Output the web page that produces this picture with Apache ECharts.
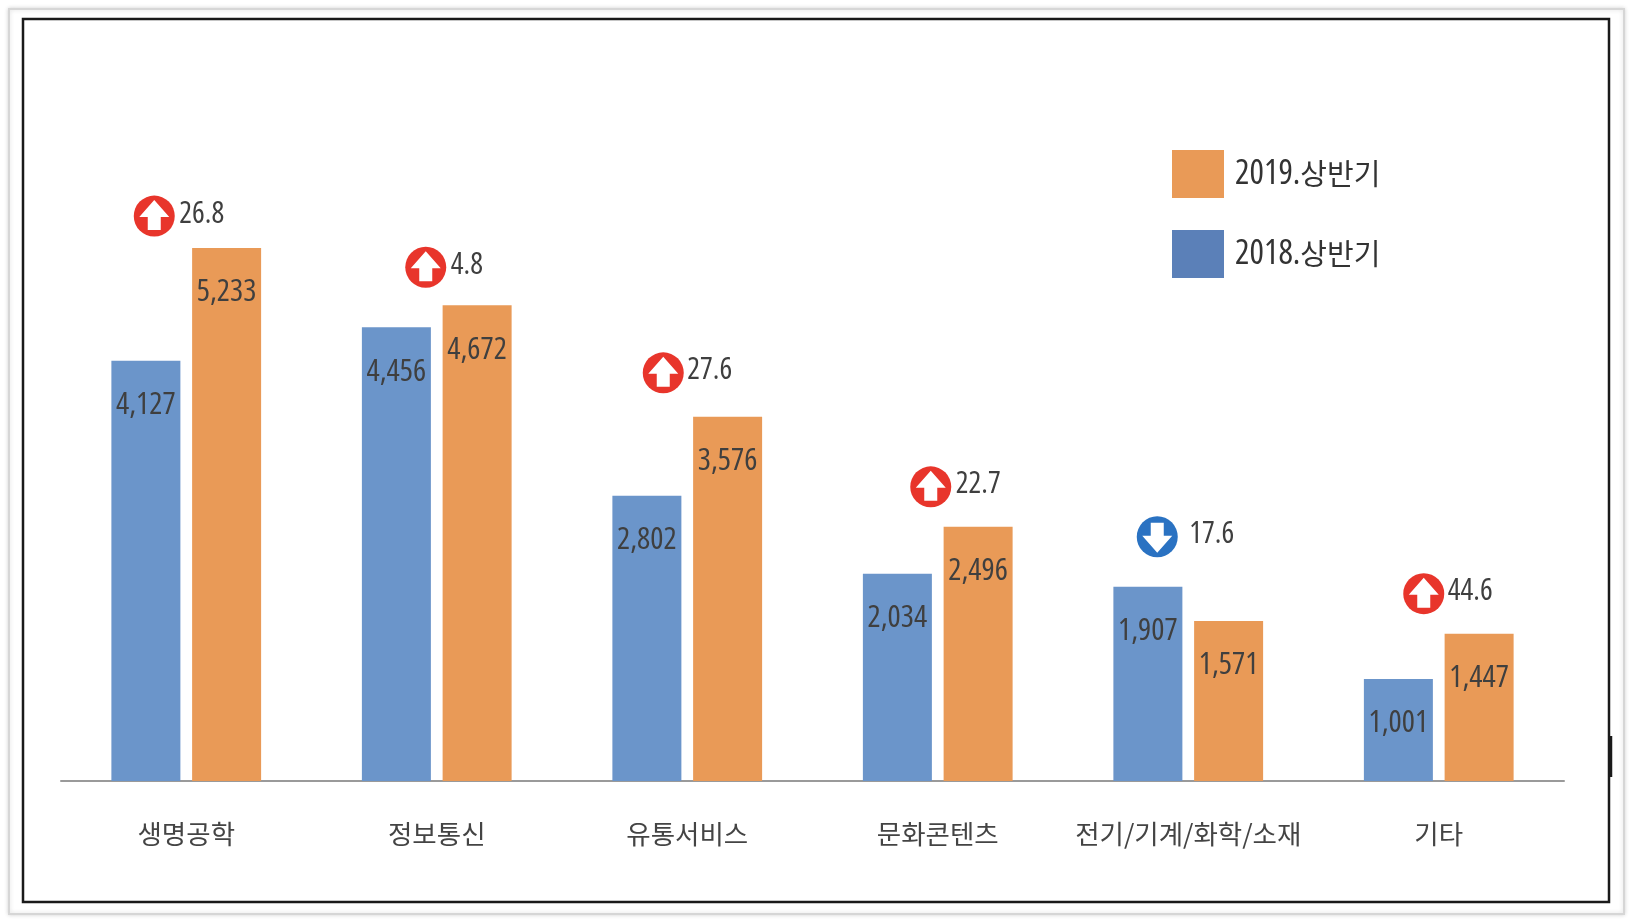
<!DOCTYPE html>
<html>
<head>
<meta charset="utf-8">
<script src="https://cdn.jsdelivr.net/npm/echarts@6/dist/echarts.min.js"></script>
<style>
html,body{margin:0;padding:0;background:#fff;}
#chart{width:1634px;height:924px;}
</style>
</head>
<body>
<div id="chart"></div>
<script>
// ---- data ----
var categories = ['생명공학', '정보통신', '유통서비스', '문화콘텐츠', '전기/기계/화학/소재', '기타'];
var seriesNames = ['2018.상반기', '2019.상반기'];
var values2018 = [4127, 4456, 2802, 2034, 1907, 1001];
var values2019 = [5233, 4672, 3576, 2496, 1571, 1447];
var changePct = [26.8, 4.8, 27.6, 22.7, 17.6, 44.6];
var changeDir = ['up', 'up', 'up', 'up', 'down', 'up'];

// ---- layout nudges for the change badges (pixels, relative to the taller bar top) ----
var badgeNudge = [
  {dx: -32, dy: -32, tx: 25},
  {dx: -11, dy: -38, tx: 25},
  {dx: -24, dy: -44, tx: 24},
  {dx: -7, dy: -40, tx: 25},
  {dx: -31, dy: -50, tx: 32},
  {dx: -15, dy: -40, tx: 24}
];

var numFamily = "'Open Sans', sans-serif";
var krFont = "'Noto Sans CJK KR', sans-serif";

function fmt(v) {
  return String(v).replace(/\B(?=(\d{3})+(?!\d))/g, ',');
}

var badgeData = categories.map(function (c, i) {
  return [i, Math.max(values2018[i], values2019[i]), changePct[i], changeDir[i] === 'up' ? 1 : -1];
});

var chart = echarts.init(document.getElementById('chart'));

var barLabel = {
  show: true,
  position: 'insideTop',
  distance: 29,
  color: '#3f3f3f',
  fontFamily: numFamily,
  fontStyle: 'normal',
  fontWeight: 'condensed',
  fontSize: 31,
  formatter: function (p) { return fmt(p.value); }
};

chart.setOption({
  backgroundColor: '#fff',
  animation: false,
  graphic: [
    {type: 'rect', shape: {x: 9, y: 9, width: 1615, height: 905}, style: {fill: '#fff', stroke: '#d6d6d6', lineWidth: 2, shadowBlur: 4, shadowColor: 'rgba(0,0,0,0.15)'}, z: -10, silent: true},
    {type: 'rect', shape: {x: 23, y: 19, width: 1586, height: 883}, style: {fill: 'none', stroke: '#1a1a1a', lineWidth: 2.5}, z: -9, silent: true},
    {type: 'line', shape: {x1: 1611, y1: 736, x2: 1611, y2: 777}, style: {stroke: '#1a1a1a', lineWidth: 2.5}, z: -9, silent: true}
  ],
  legend: {
    orient: 'vertical',
    left: 1172,
    top: 150,
    padding: 0,
    itemWidth: 52,
    itemHeight: 48,
    itemGap: 32,
    icon: 'rect',
    formatter: function (name) {
      var k = name.indexOf('.') + 1;
      return '{d|' + name.slice(0, k) + '}{k|' + name.slice(k) + '}';
    },
    textStyle: {
      padding: [0, 0, 0, 6],
      rich: {
        d: {fontFamily: numFamily, fontStyle: 'normal', fontWeight: 'condensed', fontSize: 34, color: '#333'},
        k: {fontFamily: krFont, fontSize: 29, color: '#333'}
      }
    },
    data: [
      {name: seriesNames[1], itemStyle: {color: '#e99a57'}},
      {name: seriesNames[0], itemStyle: {color: '#5b80b8'}}
    ]
  },
  grid: {left: 61, right: 70, top: 170, bottom: 143},
  xAxis: {
    type: 'category',
    data: categories,
    axisLine: {lineStyle: {color: '#9a9a9a', width: 2}},
    axisTick: {show: false},
    axisLabel: {fontFamily: krFont, fontSize: 26.5, color: '#444', margin: 40, interval: 0}
  },
  yAxis: {
    type: 'value',
    min: 0,
    max: 6000,
    show: false,
    splitLine: {show: false}
  },
  series: [
    {
      name: seriesNames[0],
      type: 'bar',
      data: values2018,
      barWidth: 69,
      barGap: '17%',
      itemStyle: {color: '#6b95ca'},
      label: barLabel
    },
    {
      name: seriesNames[1],
      type: 'bar',
      data: values2019,
      barWidth: 69,
      barGap: '17%',
      itemStyle: {color: '#e99a57'},
      label: barLabel
    },
    {
      type: 'custom',
      coordinateSystem: 'cartesian2d',
      data: badgeData,
      silent: true,
      z: 10,
      renderItem: function (params, api) {
        var i = api.value(0);
        var pt = api.coord([i, api.value(1)]);
        var nudge = badgeNudge[i];
        var cx = pt[0] + nudge.dx;
        var cy = pt[1] + nudge.dy;
        var up = api.value(3) > 0;
        var s = up ? 1 : -1;
        var pts = [
          [0, -16], [15, 1], [6.5, 1], [6.5, 14], [-6.5, 14], [-6.5, 1], [-15, 1]
        ].map(function (p) { return [cx + p[0], cy + s * p[1]]; });
        return {
          type: 'group',
          children: [
            {type: 'circle', shape: {cx: cx, cy: cy, r: 20.5}, style: {fill: up ? '#e8352b' : '#2a72c2'}},
            {type: 'polygon', shape: {points: pts}, style: {fill: '#fff'}},
            {
              type: 'text',
              style: {
                x: cx + nudge.tx,
                y: cy - 2,
                text: String(api.value(2)),
                fill: '#3f3f3f',
                font: 'normal condensed 30px ' + numFamily,
                textAlign: 'left',
                textVerticalAlign: 'middle'
              }
            }
          ]
        };
      }
    }
  ]
});
</script>
</body>
</html>
